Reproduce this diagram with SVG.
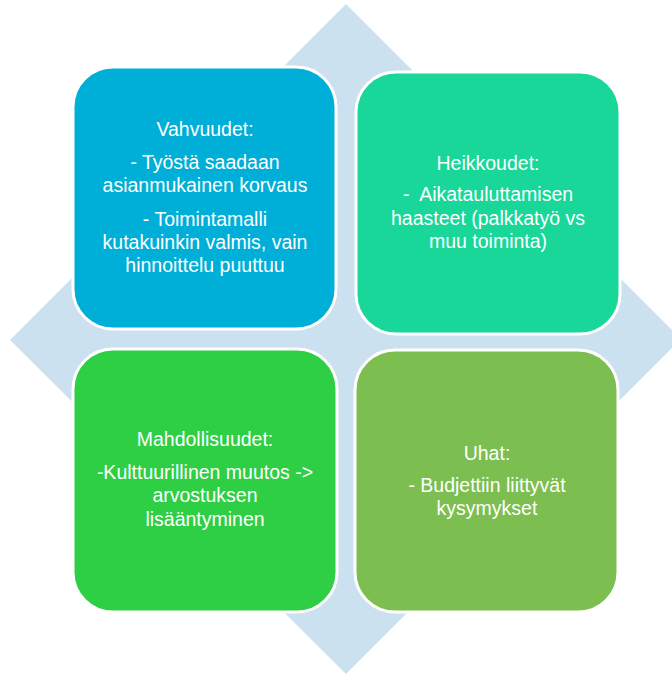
<svg xmlns="http://www.w3.org/2000/svg" width="672" height="674" viewBox="0 0 672 674">
<style>
.box{stroke:#FFFFFF;stroke-width:3}
.t{font-family:"Liberation Sans",Arial,sans-serif;font-size:19.5px;fill:#FFFFFF;text-anchor:middle;white-space:pre}
</style>
<rect width="672" height="674" fill="#FFFFFF"/>
<polygon points="346,4 681,339 346,674 10,340" fill="#CBE1EF"/>
<g id="vahvuudet">
<rect class="box" x="73" y="67" width="263" height="262" rx="40" fill="#00AFD7"/>
<text class="t" x="205" y="136">Vahvuudet:</text>
<text class="t" x="205" y="169">- Työstä saadaan</text>
<text class="t" x="205" y="192">asianmukainen korvaus</text>
<text class="t" x="205" y="226">- Toimintamalli</text>
<text class="t" x="205" y="249">kutakuinkin valmis, vain</text>
<text class="t" x="205" y="272">hinnoittelu puuttuu</text>
</g>
<g id="heikkoudet">
<rect class="box" x="356" y="72" width="264" height="262" rx="40" fill="#18D799"/>
<text class="t" x="488" y="170">Heikkoudet:</text>
<text class="t" x="488" y="201">-  Aikatauluttamisen</text>
<text class="t" x="488" y="225">haasteet (palkkatyö vs</text>
<text class="t" x="488" y="248">muu toiminta)</text>
</g>
<g id="mahdollisuudet">
<rect class="box" x="73" y="349" width="264" height="263" rx="40" fill="#2ECF45"/>
<text class="t" x="205" y="446">Mahdollisuudet:</text>
<text class="t" x="205" y="479">-Kulttuurillinen muutos -&gt;</text>
<text class="t" x="205" y="502">arvostuksen</text>
<text class="t" x="205" y="526">lisääntyminen</text>
</g>
<g id="uhat">
<rect class="box" x="355" y="350" width="263" height="262" rx="40" fill="#7CBE4F"/>
<text class="t" x="487" y="460">Uhat:</text>
<text class="t" x="487" y="492">- Budjettiin liittyvät</text>
<text class="t" x="487" y="515">kysymykset</text>
</g>
<g id="connectors"/>
</svg>
